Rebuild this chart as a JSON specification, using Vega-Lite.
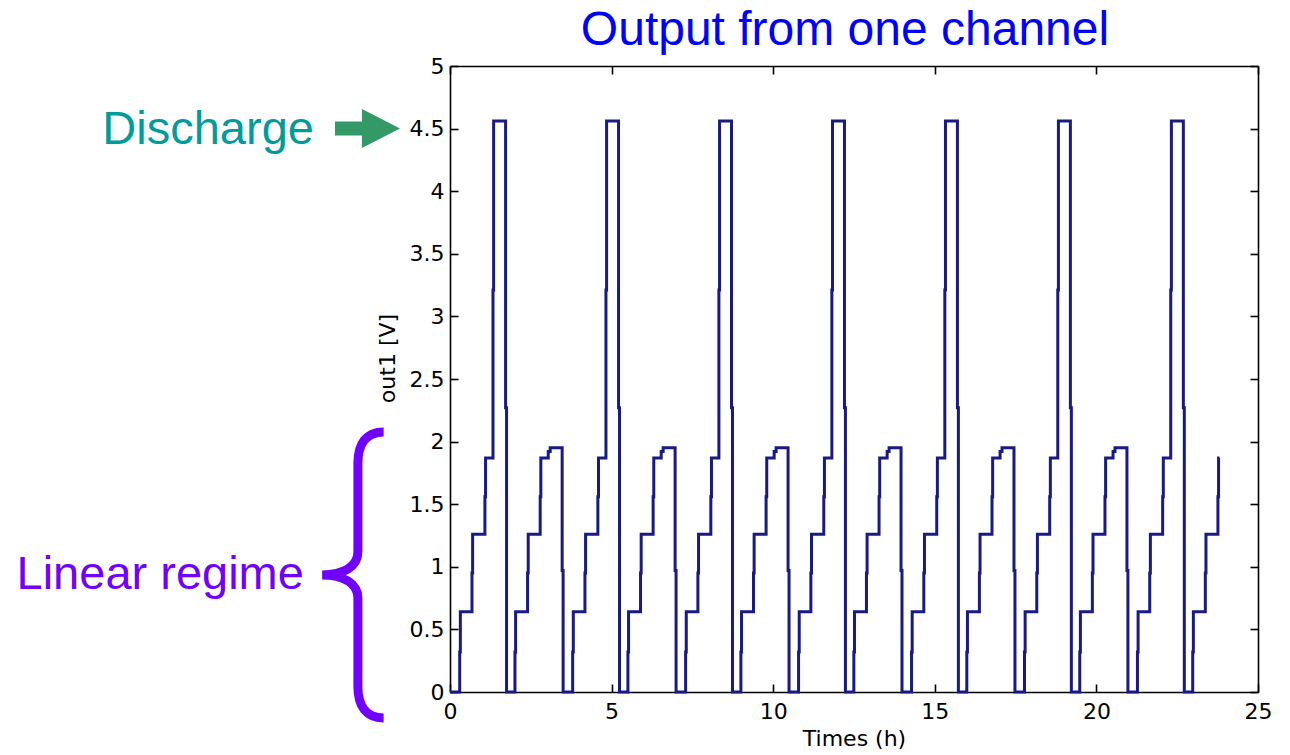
{
  "$schema": "https://vega.github.io/schema/vega-lite/v6.json",
  "width": 808,
  "height": 626,
  "autosize": {"type": "none"},
  "padding": {"left": 450, "top": 66, "right": 32, "bottom": 63},
  "background": "white",
  "title": {"text": "Output from one channel", "color": "#0000ff", "fontSize": 48, "font": "Liberation Sans", "fontWeight": "normal", "anchor": "middle", "dx": -9, "offset": 0},
  "config": {
    "view": {"stroke": null},
    "axis": {
      "labelFont": "DejaVu Sans", "titleFont": "DejaVu Sans",
      "labelColor": "black", "titleColor": "black",
      "domainColor": "black", "tickColor": "black",
      "grid": false, "domainWidth": 1.6, "tickWidth": 1.6, "tickSize": -8,
      "labelFontSize": 22, "titleFontSize": 22, "titleFontWeight": "normal",
      "labelFlush": false
    }
  },
  "datasets": {
    "wave": [
      {"t": 0, "v": 0},
      {"t": 0.30, "v": 0.32}, {"t": 0.32, "v": 0.64}, {"t": 0.68, "v": 0.95}, {"t": 0.70, "v": 1.26},
      {"t": 1.08, "v": 1.56}, {"t": 1.10, "v": 1.87}, {"t": 1.33, "v": 3.21}, {"t": 1.35, "v": 4.56},
      {"t": 1.72, "v": 2.27}, {"t": 1.75, "v": 0}, {"t": 2.01, "v": 0.32}, {"t": 2.03, "v": 0.64},
      {"t": 2.40, "v": 0.95}, {"t": 2.42, "v": 1.26}, {"t": 2.79, "v": 1.56}, {"t": 2.81, "v": 1.87},
      {"t": 3.04, "v": 1.92}, {"t": 3.10, "v": 1.95}, {"t": 3.47, "v": 0.97}, {"t": 3.50, "v": 0},

      {"t": 3.795, "v": 0.32}, {"t": 3.815, "v": 0.64}, {"t": 4.175, "v": 0.95}, {"t": 4.195, "v": 1.26},
      {"t": 4.575, "v": 1.56}, {"t": 4.595, "v": 1.87}, {"t": 4.825, "v": 3.21}, {"t": 4.845, "v": 4.56},
      {"t": 5.215, "v": 2.27}, {"t": 5.245, "v": 0}, {"t": 5.505, "v": 0.32}, {"t": 5.525, "v": 0.64},
      {"t": 5.895, "v": 0.95}, {"t": 5.915, "v": 1.26}, {"t": 6.285, "v": 1.56}, {"t": 6.305, "v": 1.87},
      {"t": 6.535, "v": 1.92}, {"t": 6.595, "v": 1.95}, {"t": 6.965, "v": 0.97}, {"t": 6.995, "v": 0},

      {"t": 7.29, "v": 0.32}, {"t": 7.31, "v": 0.64}, {"t": 7.67, "v": 0.95}, {"t": 7.69, "v": 1.26},
      {"t": 8.07, "v": 1.56}, {"t": 8.09, "v": 1.87}, {"t": 8.32, "v": 3.21}, {"t": 8.34, "v": 4.56},
      {"t": 8.71, "v": 2.27}, {"t": 8.74, "v": 0}, {"t": 9.00, "v": 0.32}, {"t": 9.02, "v": 0.64},
      {"t": 9.39, "v": 0.95}, {"t": 9.41, "v": 1.26}, {"t": 9.78, "v": 1.56}, {"t": 9.80, "v": 1.87},
      {"t": 10.03, "v": 1.92}, {"t": 10.09, "v": 1.95}, {"t": 10.46, "v": 0.97}, {"t": 10.49, "v": 0},

      {"t": 10.785, "v": 0.32}, {"t": 10.805, "v": 0.64}, {"t": 11.165, "v": 0.95}, {"t": 11.185, "v": 1.26},
      {"t": 11.565, "v": 1.56}, {"t": 11.585, "v": 1.87}, {"t": 11.815, "v": 3.21}, {"t": 11.835, "v": 4.56},
      {"t": 12.205, "v": 2.27}, {"t": 12.235, "v": 0}, {"t": 12.495, "v": 0.32}, {"t": 12.515, "v": 0.64},
      {"t": 12.885, "v": 0.95}, {"t": 12.905, "v": 1.26}, {"t": 13.275, "v": 1.56}, {"t": 13.295, "v": 1.87},
      {"t": 13.525, "v": 1.92}, {"t": 13.585, "v": 1.95}, {"t": 13.955, "v": 0.97}, {"t": 13.985, "v": 0},

      {"t": 14.28, "v": 0.32}, {"t": 14.30, "v": 0.64}, {"t": 14.66, "v": 0.95}, {"t": 14.68, "v": 1.26},
      {"t": 15.06, "v": 1.56}, {"t": 15.08, "v": 1.87}, {"t": 15.31, "v": 3.21}, {"t": 15.33, "v": 4.56},
      {"t": 15.70, "v": 2.27}, {"t": 15.73, "v": 0}, {"t": 15.99, "v": 0.32}, {"t": 16.01, "v": 0.64},
      {"t": 16.38, "v": 0.95}, {"t": 16.40, "v": 1.26}, {"t": 16.77, "v": 1.56}, {"t": 16.79, "v": 1.87},
      {"t": 17.02, "v": 1.92}, {"t": 17.08, "v": 1.95}, {"t": 17.45, "v": 0.97}, {"t": 17.48, "v": 0},

      {"t": 17.775, "v": 0.32}, {"t": 17.795, "v": 0.64}, {"t": 18.155, "v": 0.95}, {"t": 18.175, "v": 1.26},
      {"t": 18.555, "v": 1.56}, {"t": 18.575, "v": 1.87}, {"t": 18.805, "v": 3.21}, {"t": 18.825, "v": 4.56},
      {"t": 19.195, "v": 2.27}, {"t": 19.225, "v": 0}, {"t": 19.485, "v": 0.32}, {"t": 19.505, "v": 0.64},
      {"t": 19.875, "v": 0.95}, {"t": 19.895, "v": 1.26}, {"t": 20.265, "v": 1.56}, {"t": 20.285, "v": 1.87},
      {"t": 20.515, "v": 1.92}, {"t": 20.575, "v": 1.95}, {"t": 20.945, "v": 0.97}, {"t": 20.975, "v": 0},

      {"t": 21.27, "v": 0.32}, {"t": 21.29, "v": 0.64}, {"t": 21.65, "v": 0.95}, {"t": 21.67, "v": 1.26},
      {"t": 22.05, "v": 1.56}, {"t": 22.07, "v": 1.87}, {"t": 22.30, "v": 3.21}, {"t": 22.32, "v": 4.56},
      {"t": 22.69, "v": 2.27}, {"t": 22.72, "v": 0}, {"t": 22.98, "v": 0.32}, {"t": 23.00, "v": 0.64},
      {"t": 23.37, "v": 0.95}, {"t": 23.39, "v": 1.26}, {"t": 23.76, "v": 1.56}, {"t": 23.78, "v": 1.87},
      {"t": 23.81, "v": 1.87}
    ]
  },
  "layer": [
    {
      "data": {"name": "wave"},
      "mark": {"type": "line", "interpolate": "step-after", "color": "#1a1a85", "strokeWidth": 3},
      "encoding": {
        "x": {"field": "t", "type": "quantitative", "scale": {"domain": [0, 25], "nice": false, "zero": false},
              "axis": {"orient": "bottom", "title": "Times (h)", "values": [0, 5, 10, 15, 20, 25], "format": "~g", "labelPadding": 17, "titlePadding": 6}},
        "y": {"field": "v", "type": "quantitative", "scale": {"domain": [0, 5], "nice": false, "zero": false},
              "axis": {"orient": "left", "title": "out1 [V]", "values": [0, 0.5, 1, 1.5, 2, 2.5, 3, 3.5, 4, 4.5, 5], "format": "~g", "labelPadding": 14, "titlePadding": 10, "titleY": 292}}
      }
    },
    {
      "data": {"name": "wave"},
      "mark": {"type": "line", "opacity": 0},
      "encoding": {
        "x": {"field": "t", "type": "quantitative", "scale": {"domain": [0, 25], "nice": false, "zero": false},
              "axis": {"orient": "top", "title": null, "labels": false, "values": [0, 5, 10, 15, 20, 25]}},
        "y": {"field": "v", "type": "quantitative", "scale": {"domain": [0, 5], "nice": false, "zero": false},
              "axis": {"orient": "right", "title": null, "labels": false, "values": [0, 0.5, 1, 1.5, 2, 2.5, 3, 3.5, 4, 4.5, 5]}}
      }
    },
    {
      "data": {"values": [{"t": -4.21, "v": 4.377, "label": "Discharge"}]},
      "mark": {"type": "text", "align": "right", "baseline": "alphabetic", "font": "Liberation Sans", "fontSize": 47, "color": "#009b9b"},
      "encoding": {
        "x": {"field": "t", "type": "quantitative", "scale": {"domain": [0, 25], "nice": false, "zero": false}, "axis": null},
        "y": {"field": "v", "type": "quantitative", "scale": {"domain": [0, 5], "nice": false, "zero": false}, "axis": null},
        "text": {"field": "label"}
      }
    },
    {
      "data": {"values": [{"t": -2.553, "v": 4.5}]},
      "mark": {"type": "point", "shape": "M -1 -0.215 L -0.17 -0.215 L -0.17 -0.6 L 1 0 L -0.17 0.6 L -0.17 0.215 L -1 0.215 Z", "size": 4225, "filled": true, "color": "#339966", "opacity": 1, "strokeWidth": 0},
      "encoding": {
        "x": {"field": "t", "type": "quantitative", "scale": {"domain": [0, 25], "nice": false, "zero": false}, "axis": null},
        "y": {"field": "v", "type": "quantitative", "scale": {"domain": [0, 5], "nice": false, "zero": false}, "axis": null}
      }
    },
    {
      "data": {"values": [{"t": -4.52, "v": 0.823, "label": "Linear regime"}]},
      "mark": {"type": "text", "align": "right", "baseline": "alphabetic", "font": "Liberation Sans", "fontSize": 47, "color": "#7000ff"},
      "encoding": {
        "x": {"field": "t", "type": "quantitative", "scale": {"domain": [0, 25], "nice": false, "zero": false}, "axis": null},
        "y": {"field": "v", "type": "quantitative", "scale": {"domain": [0, 5], "nice": false, "zero": false}, "axis": null},
        "text": {"field": "label"}
      }
    },
    {
      "data": {"values": [{"t": -2.85, "v": 0.935}]},
      "mark": {"type": "point", "shape": "M 0.18 -1 C 0.06 -1 0 -0.92 0 -0.78 L 0 -0.16 C 0 -0.06 -0.1 0 -0.25 0 C -0.1 0 0 0.06 0 0.16 L 0 0.78 C 0 0.92 0.06 1 0.18 1", "size": 81796, "filled": false, "stroke": "#7000ff", "strokeWidth": 9, "opacity": 1},
      "encoding": {
        "x": {"field": "t", "type": "quantitative", "scale": {"domain": [0, 25], "nice": false, "zero": false}, "axis": null},
        "y": {"field": "v", "type": "quantitative", "scale": {"domain": [0, 5], "nice": false, "zero": false}, "axis": null}
      }
    }
  ],
  "resolve": {"axis": {"x": "independent", "y": "independent"}}
}
